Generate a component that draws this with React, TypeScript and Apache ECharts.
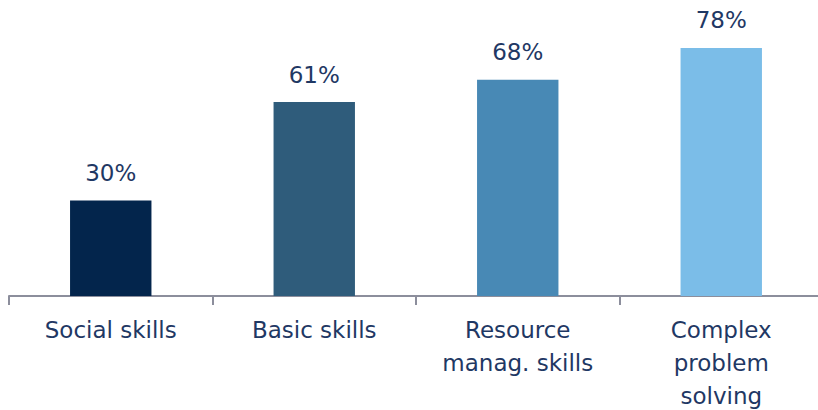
import React, { useEffect, useRef } from "react";
import * as echarts from "echarts";

const categories = ["Social skills", "Basic skills", "Resource\nmanag. skills", "Complex\nproblem\nsolving"];
const values = [30, 61, 68, 78];
const barColors = ["#03254C", "#2F5C7B", "#4889B5", "#7BBDE8"];

export default function App() {
  const ref = useRef<HTMLDivElement>(null);
  useEffect(() => {
    const chart = echarts.init(ref.current!, null, { renderer: "svg" });
    chart.setOption({
      animation: false,
      grid: { left: 9, right: -5, top: -22, bottom: 114, containLabel: false, outerBoundsMode: "none" },
      xAxis: {
        type: "category",
        data: categories,
        axisLine: { lineStyle: { color: "#8C8E9C", width: 2 } },
        axisTick: { show: true, length: 9, lineStyle: { color: "#8C8E9C", width: 2 } },
        axisLabel: {
          color: "#1F3864",
          fontFamily: "DejaVu Sans",
          fontSize: 23,
          lineHeight: 33,
          margin: 17,
          interval: 0,
        },
      },
      yAxis: {
        type: "value",
        min: 0,
        max: 100,
        show: false,
        splitLine: { show: false },
      },
      series: [
        {
          type: "bar",
          barWidth: "40%",
          data: values.map((v, i) => ({ value: v, itemStyle: { color: barColors[i] } })),
          label: {
            show: true,
            position: "top",
            distance: 16,
            formatter: "{c}%",
            color: "#1F3864",
            fontFamily: "DejaVu Sans",
            fontSize: 23,
          },
        },
      ],
    });
    return () => chart.dispose();
  }, []);
  return <div ref={ref} style={{ position: "absolute", left: 0, top: 0, width: 818, height: 410 }} />;
}
